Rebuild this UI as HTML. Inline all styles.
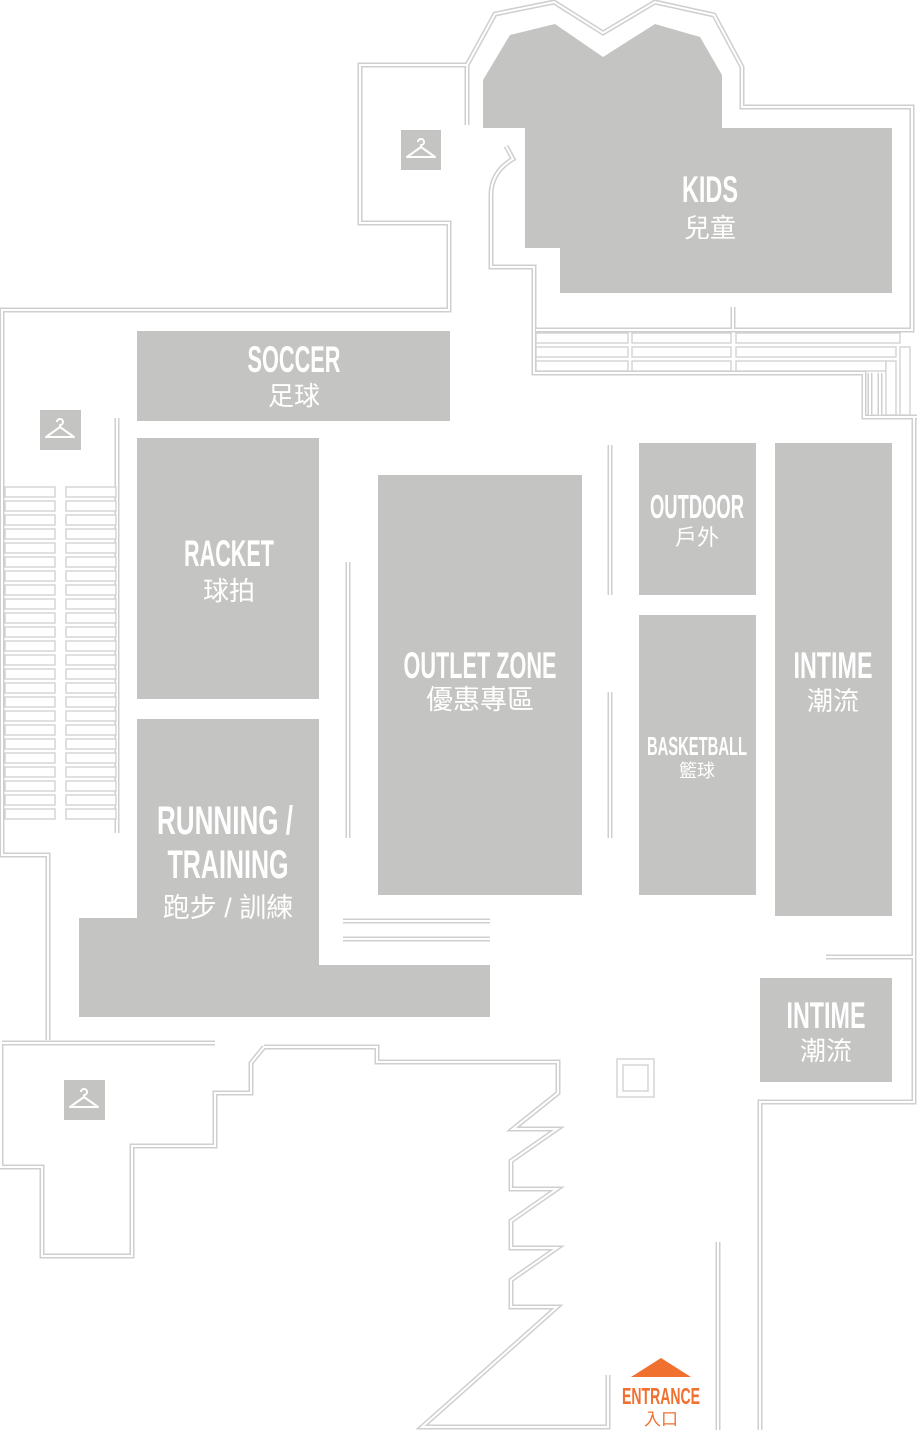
<!DOCTYPE html>
<html><head><meta charset="utf-8"><style>
body{margin:0;background:#fff}
svg{display:block}
.t{font-family:"Liberation Sans",sans-serif;font-weight:bold;fill:#fff;text-anchor:middle}
.c{font-family:"Liberation Sans","Noto Sans CJK TC",sans-serif;fill:#fff;text-anchor:middle}
.w1{fill:none;stroke:#cfcfcf;stroke-width:5;stroke-linejoin:miter}
.w2{fill:none;stroke:#fff;stroke-width:2;stroke-linejoin:miter}
.b{fill:#c4c4c2}
.s{fill:#fff;stroke:#cfcfcf;stroke-width:1.3}
</style></head><body>
<svg width="917" height="1430" viewBox="0 0 917 1430" xmlns="http://www.w3.org/2000/svg">
<defs>
<g id="walls">
<polyline points="536,330 912,330 912,107 742,107 742,67 714,15 655,2 603,33 554,2 495,14 467,65 360,65 360,223 449,223 449,310 2,310 2,855 48,855 48,1040"/>
<polyline points="467,65 467,125"/>
<path d="M506,146 L513,159 Q491,172 491,195 L491,267 L534,267 L534,373 L864,373 L864,417 L917,417"/>
<polyline points="914,417 914,1102 760,1102 760,1430"/>
<polyline points="826,957 914,957"/>
<polyline points="733,307 733,330"/>
<polyline points="117,418 117,833"/>
<polyline points="2,1043 215,1043"/>
<polyline points="264,1047 377,1047 377,1062 558,1062 558,1093 513,1129 557,1129 511,1161 511,1189 557,1189 511,1221 511,1248 557,1248 511,1280 511,1307 557,1307 422,1427 608,1427 608,1375"/>
<polyline points="264,1047 251,1063 251,1093 215,1093 215,1146 132,1146 132,1256 42,1256 42,1167 1,1167 1,1043"/>
<polyline points="718,1242 718,1430"/>
<polyline points="348,562 348,838"/>
<polyline points="610,445 610,595"/>
<polyline points="610,692 610,838"/>
<polyline points="343,921 490,921"/>
<polyline points="343,939 490,939"/>
<polyline points="870,373 870,415"/>
<polyline points="880,373 880,415"/>
</g>
</defs>
<g class="w1"><use href="#walls"/></g>
<g class="w2"><use href="#walls"/></g>
<g class="s">
<rect x="536" y="333" width="92" height="10"/><rect x="632" y="333" width="99" height="10"/><rect x="736" y="333" width="164" height="10"/>
<rect x="536" y="347" width="92" height="10"/><rect x="632" y="347" width="99" height="10"/><rect x="736" y="347" width="160" height="10"/>
<rect x="536" y="361" width="92" height="10"/><rect x="632" y="361" width="99" height="10"/><rect x="736" y="361" width="150" height="10"/>
<rect x="886" y="361" width="10" height="54"/><rect x="900" y="347" width="10" height="68"/>
</g>
<g class="s">
<rect x="5" y="487" width="50" height="10"/><rect x="66" y="487" width="50" height="10"/>
<rect x="5" y="501" width="50" height="10"/><rect x="66" y="501" width="50" height="10"/>
<rect x="5" y="515" width="50" height="10"/><rect x="66" y="515" width="50" height="10"/>
<rect x="5" y="529" width="50" height="10"/><rect x="66" y="529" width="50" height="10"/>
<rect x="5" y="543" width="50" height="10"/><rect x="66" y="543" width="50" height="10"/>
<rect x="5" y="557" width="50" height="10"/><rect x="66" y="557" width="50" height="10"/>
<rect x="5" y="571" width="50" height="10"/><rect x="66" y="571" width="50" height="10"/>
<rect x="5" y="585" width="50" height="10"/><rect x="66" y="585" width="50" height="10"/>
<rect x="5" y="599" width="50" height="10"/><rect x="66" y="599" width="50" height="10"/>
<rect x="5" y="613" width="50" height="10"/><rect x="66" y="613" width="50" height="10"/>
<rect x="5" y="627" width="50" height="10"/><rect x="66" y="627" width="50" height="10"/>
<rect x="5" y="641" width="50" height="10"/><rect x="66" y="641" width="50" height="10"/>
<rect x="5" y="655" width="50" height="10"/><rect x="66" y="655" width="50" height="10"/>
<rect x="5" y="669" width="50" height="10"/><rect x="66" y="669" width="50" height="10"/>
<rect x="5" y="683" width="50" height="10"/><rect x="66" y="683" width="50" height="10"/>
<rect x="5" y="697" width="50" height="10"/><rect x="66" y="697" width="50" height="10"/>
<rect x="5" y="711" width="50" height="10"/><rect x="66" y="711" width="50" height="10"/>
<rect x="5" y="725" width="50" height="10"/><rect x="66" y="725" width="50" height="10"/>
<rect x="5" y="739" width="50" height="10"/><rect x="66" y="739" width="50" height="10"/>
<rect x="5" y="753" width="50" height="10"/><rect x="66" y="753" width="50" height="10"/>
<rect x="5" y="767" width="50" height="10"/><rect x="66" y="767" width="50" height="10"/>
<rect x="5" y="781" width="50" height="10"/><rect x="66" y="781" width="50" height="10"/>
<rect x="5" y="795" width="50" height="10"/><rect x="66" y="795" width="50" height="10"/>
<rect x="5" y="809" width="50" height="10"/><rect x="66" y="809" width="50" height="10"/>
</g>
<rect class="s" x="617" y="1059" width="37" height="38"/>
<rect class="s" x="623" y="1065" width="25" height="26"/>
<polygon class="b" points="483,128 483,80 510,35 555,24 603,57 655,24 700,37 722,75 722,128 892,128 892,293 560,293 560,248 525,248 525,128"/>
<rect class="b" x="137" y="331" width="313" height="90"/>
<rect class="b" x="137" y="438" width="182" height="261"/>
<polygon class="b" points="137,719 319,719 319,965 490,965 490,1017 79,1017 79,918 137,918"/>
<rect class="b" x="378" y="475" width="204" height="420"/>
<rect class="b" x="639" y="443" width="117" height="152"/>
<rect class="b" x="639" y="615" width="117" height="280"/>
<rect class="b" x="775" y="443" width="117" height="473"/>
<rect class="b" x="760" y="978" width="132" height="104"/>
<rect class="b" x="401" y="130" width="40" height="40"/>
<rect class="b" x="40" y="410" width="41" height="40"/>
<rect class="b" x="64" y="1080" width="41" height="40"/>
<g fill="none" stroke="#fff" stroke-width="2" stroke-linejoin="round">
<path d="M418,142 a3,3 0 1 1 3,3 v2 l-14,10 h28 l-14,-10"/>
<path d="M57,422 a3,3 0 1 1 3,3 v2 l-14,10 h28 l-14,-10"/>
<path d="M81,1092 a3,3 0 1 1 3,3 v2 l-14,10 h28 l-14,-10"/>
</g>
<text class="t" x="710" y="202" font-size="37" textLength="56" lengthAdjust="spacingAndGlyphs">KIDS</text>
<text class="c" x="710" y="237" font-size="26">兒童</text>
<text class="t" x="294" y="372" font-size="37" textLength="93" lengthAdjust="spacingAndGlyphs">SOCCER</text>
<text class="c" x="294" y="405" font-size="26">足球</text>
<text class="t" x="229" y="566" font-size="37" textLength="90" lengthAdjust="spacingAndGlyphs">RACKET</text>
<text class="c" x="229" y="600" font-size="26">球拍</text>
<text class="t" x="480" y="678" font-size="37" textLength="153" lengthAdjust="spacingAndGlyphs">OUTLET ZONE</text>
<text class="c" x="480" y="709" font-size="27">優惠專區</text>
<text class="t" x="697" y="518" font-size="33" textLength="94" lengthAdjust="spacingAndGlyphs">OUTDOOR</text>
<text class="c" x="697" y="545" font-size="22">戶外</text>
<text class="t" x="697" y="755" font-size="26" textLength="100" lengthAdjust="spacingAndGlyphs">BASKETBALL</text>
<text class="c" x="697" y="777" font-size="18">籃球</text>
<text class="t" x="833" y="678" font-size="37" textLength="79" lengthAdjust="spacingAndGlyphs">INTIME</text>
<text class="c" x="833" y="710" font-size="26">潮流</text>
<text class="t" x="826" y="1028" font-size="37" textLength="79" lengthAdjust="spacingAndGlyphs">INTIME</text>
<text class="c" x="826" y="1060" font-size="26">潮流</text>
<text class="t" x="225" y="834" font-size="40" textLength="136" lengthAdjust="spacingAndGlyphs">RUNNING /</text>
<text class="t" x="228" y="878" font-size="40" textLength="121" lengthAdjust="spacingAndGlyphs">TRAINING</text>
<text class="c" x="228" y="917" font-size="27">跑步 / 訓練</text>
<polygon points="631,1377 661,1358 691,1377" fill="#f07030"/>
<text class="t" x="661" y="1404" font-size="23" textLength="78" lengthAdjust="spacingAndGlyphs" style="fill:#f07030">ENTRANCE</text>
<text class="c" x="661" y="1425" font-size="17" style="fill:#f07030">入口</text>
</svg>
</body></html>
